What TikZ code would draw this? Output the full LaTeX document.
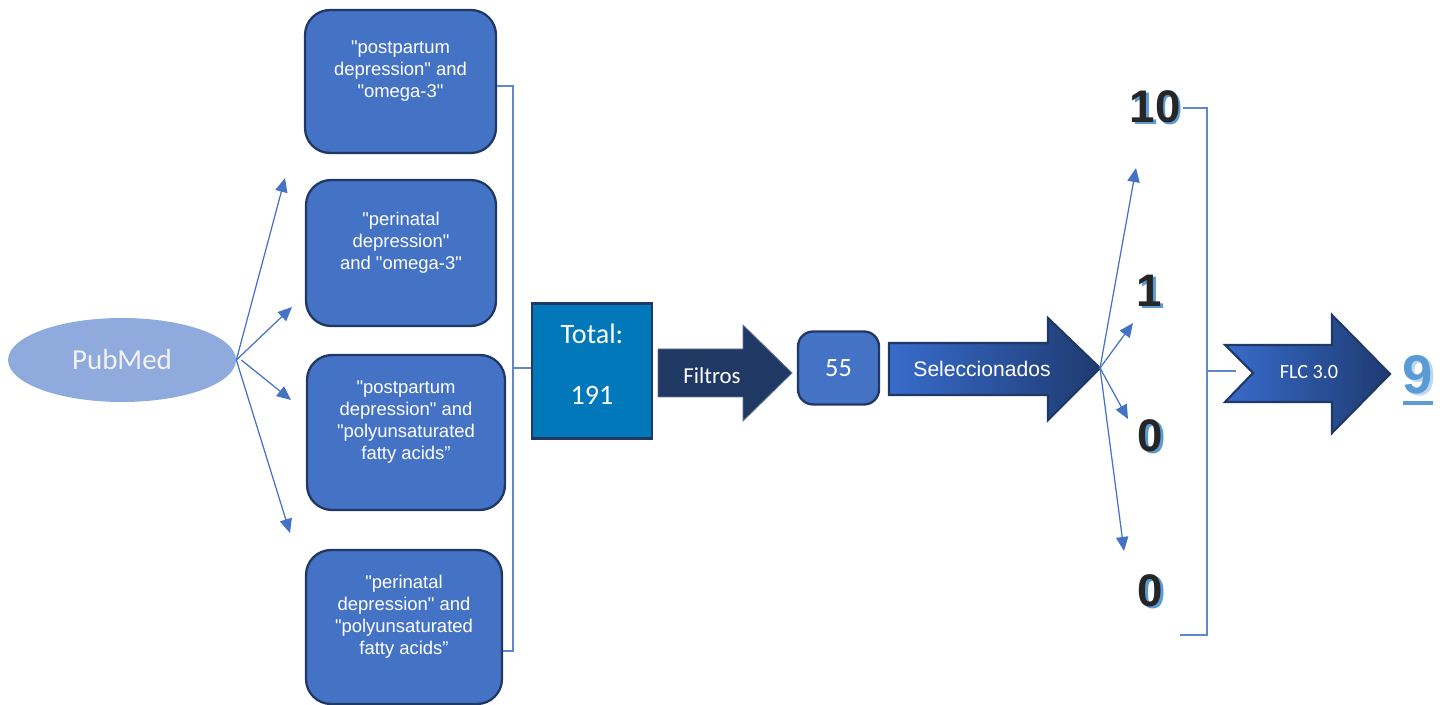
\documentclass[tikz,border=0pt]{standalone}
\usepackage{fontspec}
\setmainfont{Liberation Sans}
\newfontfamily\calibri{Carlito}
\newfontfamily\qfont{Liberation Sans}
\usetikzlibrary{positioning,shapes.geometric,arrows.meta}

\definecolor{boxblue}{RGB}{68,114,196}
\definecolor{navy}{RGB}{31,56,100}
\definecolor{ellblue}{RGB}{143,170,220}
\definecolor{totalblue}{RGB}{0,120,186}
\definecolor{shadeblue}{RGB}{91,155,213}
\definecolor{ninelight}{RGB}{189,215,238}
\definecolor{selleft}{RGB}{56,108,204}
\definecolor{selright}{RGB}{30,58,112}

\newcommand{\numshadow}[2]{\makebox[0pt][l]{\hspace{1.6pt}\raisebox{-1.2pt}{\textcolor{#1}{#2}}}#2}
\newcommand{\q}{{\qfont"}}
\newcommand{\thickul}[1]{\leavevmode\vtop{\hbox{#1}\kern3pt\hrule height 2.2pt}}

\tikzstyle{query} = [rectangle, rounded corners=0.5cm, draw=navy, line width=1.3pt, fill=boxblue,
                     text=white, align=center, font=\fontsize{10.5}{12.5}\selectfont, text depth=0.48cm]
\tikzstyle{link} = [draw=boxblue, line width=0.7pt, -{Triangle[length=8pt,width=7pt]}]
\tikzstyle{brace} = [draw=boxblue!85!white, line width=0.6pt]

\begin{document}
\begin{tikzpicture}[x=0.02cm, y=-0.02cm,
		source/.style={
				ellipse,
				fill=ellblue,
				minimum width=4.56cm,
				minimum height=1.68cm,
				text=white!95!black,
				font=\calibri\fontsize{16.5}{18}\selectfont,
			},
		count/.style={
				inner sep=0pt,
				text=black!85,
				font=\fontsize{26}{26}\selectfont\bfseries,
			},
		label/.style={
				text=white,
				inner sep=0pt,
			}
	]
	\useasboundingbox (0,0) rectangle (1447,705);

	% PubMed source
	\node[source] (pubmed) at (122,360) {PubMed};

	% search queries
	\node[query, minimum width=3.82cm, minimum height=2.86cm] (q1) at (400.5,81.5)
	{\q postpartum\\ depression\q{} and\\ \q omega-3\q};
	\node[query, minimum width=3.80cm, minimum height=2.92cm] (q2) at (401,253)
	{\q perinatal\\ depression\q\\ and \q omega-3\q};
	\node[query, minimum width=3.96cm, minimum height=3.10cm] (q3) at (406,432.5)
	{\q postpartum\\ depression\q{} and\\ \q polyunsaturated\\ fatty acids”};
	\node[query, minimum width=3.92cm, minimum height=3.08cm] (q4) at (404,627)
	{\q perinatal\\ depression\q{} and\\ \q polyunsaturated\\ fatty acids”};

	% Total box
	\node[rectangle, draw=navy, line width=1.3pt, fill=totalblue, text=white, align=center,
		minimum width=2.4cm, minimum height=2.7cm, text depth=0.28cm, font=\calibri\fontsize{16}{19}\selectfont]
	(total) at (592,371) {Total:\\[0.55cm]191};

	% Filtros arrow
	\path[fill=navy, draw=navy!70!white, line width=0.5pt]
	(658,349) -- (743,349) -- (743,325) -- (792,373) -- (743,421) -- (743,397) -- (658,397) -- cycle;
	\node[label, font=\calibri\fontsize{13}{15}\selectfont] (filtros) at (712,376) {Filtros};

	% 55 box
	\node[rectangle, rounded corners=0.3cm, draw=navy, line width=1.3pt, fill=boxblue, text=white,
		minimum width=1.62cm, minimum height=1.46cm, font=\calibri\fontsize{15}{17}\selectfont]
	(n55) at (838.5,368) {55};

	% Seleccionados arrow
	\coordinate (seltip) at (1100,368);
	\path[draw=navy, line width=1.2pt, left color=selleft, right color=selright]
	(889,343) -- (1048,343) -- (1048,318) -- (seltip) -- (1048,420) -- (1048,395) -- (889,395) -- cycle;
	\node[label, font=\fontsize{12}{14}\selectfont] (sel) at (982,369) {Seleccionados};

	% counts
	\node[count] (n10) at (1155,108) {\numshadow{shadeblue}{10}};
	\node[count] (n1) at (1149,292) {\numshadow{shadeblue}{1}};
	\node[count] (n0a) at (1150,437) {\numshadow{shadeblue}{0}};
	\node[count] (n0b) at (1150,592) {\numshadow{shadeblue}{0}};

	% FLC 3.0 arrow
	\coordinate (flctail) at (1236,371);
	\path[draw=navy, line width=1.2pt, left color=selleft, right color=selright]
	(1225,345) -- (1332,345) -- (1332,315) -- (1390,374) -- (1332,433) -- (1332,402) -- (1225,402) -- (1253,373) -- cycle;
	\node[label, font=\calibri\fontsize{11.5}{13}\selectfont] (flc) at (1309,372) {FLC 3.0};

	% result
	\node[inner sep=0pt, anchor=north, text=shadeblue, font=\fontsize{31}{31}\selectfont\bfseries]
	(n9) at (1418,355) {\thickul{\numshadow{ninelight}{9}}};

	% free ends
	\coordinate (e1) at (285,178);
	\coordinate (e2) at (292,307);
	\coordinate (e3) at (291,400);
	\coordinate (e4) at (290,533);
	\coordinate (r1) at (1136,168);
	\coordinate (r2) at (1133,323);
	\coordinate (r3) at (1128,419);
	\coordinate (r4) at (1124,551);
	\coordinate (jl) at (513,368);
	\coordinate (jr) at (1207,371);
	\coordinate (bend) at (1180,635);

	% Connections
	\draw[link] (pubmed.east) -- (e1);
	\draw[link] (pubmed.east) -- (e2);
	\draw[link] ([xshift=0.1cm]pubmed.east) -- (e3);
	\draw[link] (pubmed.east) -- (e4);
	\draw[brace] ([yshift=-0.09cm]q1.east) -| (jl);
	\draw[brace] ([yshift=-0.48cm]q4.east) -| (jl);
	\draw[brace] (jl) -- (jl -| total.west);
	\draw[link] (seltip) -- (r1);
	\draw[link] (seltip) -- (r2);
	\draw[link] (seltip) -- (r3);
	\draw[link] (seltip) -- (r4);
	\draw[brace] ([xshift=1pt]n10.east) -| (jr) |- (bend);
	\draw[brace] (jr) -- (flctail);

\end{tikzpicture}
\end{document}
